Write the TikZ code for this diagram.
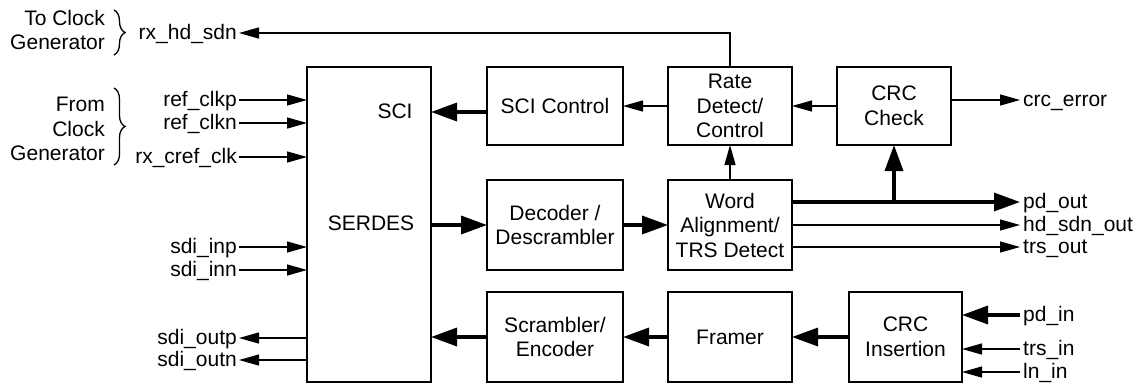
\documentclass[tikz,border=0pt]{standalone}
\usepackage{fontspec}
\setmainfont{Liberation Sans}
\usetikzlibrary{arrows.meta,decorations.pathreplacing,calc}
\begin{document}
\begin{tikzpicture}[x=1pt,y=-1pt,
  every node/.style={font=\fontsize{21}{24.5}\selectfont},
  blk/.style={draw,line width=1.4pt,inner sep=0pt,outer sep=0pt,align=center},
  lblL/.style={anchor=east,inner sep=2pt,text height=14pt,text depth=2pt},
  lblR/.style={anchor=west,inner sep=3pt,text height=14pt,text depth=2pt},
  thinarr/.style={line width=1.3pt,-{Triangle[length=20pt,width=11pt]}},
  thickarr/.style={line width=3.4pt,-{Triangle[length=26pt,width=18pt]}},
  thinline/.style={line width=1.3pt},
  brc/.style={decorate,line width=1.3pt,decoration={brace,amplitude=11pt}}]
\useasboundingbox (0,0) rectangle (1148,384);

% blocks
\node[blk,minimum width=124pt,minimum height=315pt] (serdes) at (369,224.5) {};
\node (scilbl) at (395,111) {SCI};
\node (serdeslbl) at (371,223) {SERDES};
\node[blk,minimum width=136pt,minimum height=78pt] (scictl) at (555,106) {SCI Control};
\node[blk,minimum width=124pt,minimum height=78pt] (rate) at (730,106) {Rate\\Detect/\\Control};
\node[blk,minimum width=114pt,minimum height=78pt] (crcchk) at (894,106) {CRC\\Check};
\node[blk,minimum width=136pt,minimum height=90pt] (decoder) at (555,225) {Decoder /\\Descrambler};
\node[blk,minimum width=124pt,minimum height=90pt] (word) at (730,225) {Word\\Alignment/\\TRS Detect};
\node[blk,minimum width=136pt,minimum height=90pt] (scram) at (555,337) {Scrambler/\\Encoder};
\node[blk,minimum width=124pt,minimum height=90pt] (framer) at (730,337) {Framer};
\node[blk,minimum width=113pt,minimum height=90pt] (crcins) at (905.5,337) {CRC\\Insertion};

% left labels
\node[lblL] (rxhd) at (239,33) {rx\_hd\_sdn};
\node[lblL] (refp) at (239,100) {ref\_clkp};
\node[lblL] (refn) at (239,123) {ref\_clkn};
\node[lblL] (rxcref) at (239,157) {rx\_cref\_clk};
\node[lblL] (sdiinp) at (239,247) {sdi\_inp};
\node[lblL] (sdiinn) at (239,270) {sdi\_inn};
\node[lblL] (sdioutp) at (239,338) {sdi\_outp};
\node[lblL] (sdioutn) at (239,360) {sdi\_outn};

% right labels
\node[lblR] (crcerr) at (1020,100) {crc\_error};
\node[lblR] (pdout) at (1020,202) {pd\_out};
\node[lblR] (hdout) at (1020,225) {hd\_sdn\_out};
\node[lblR] (trsout) at (1020,247) {trs\_out};
\node[lblR] (pdin) at (1020,315) {pd\_in};
\node[lblR] (trsin) at (1020,349) {trs\_in};
\node[lblR] (lnin) at (1020,372) {ln\_in};

% group texts and braces
\node[align=right,anchor=east,inner sep=0pt] (togen) at (105,30) {To Clock\\Generator};
\node[align=right,anchor=east,inner sep=0pt] (fromgen) at (105,129) {From\\Clock\\Generator};
\draw[brc] (114,10) -- (114,55);
\draw[brc] (114,88) -- (114,165);

% connectors
\draw[thinarr] (rate.north) |- (rxhd.east);
\draw[thickarr] ([yshift=-6pt]scictl.west) -- ([yshift=-6pt]scictl.west -| serdes.east);
\draw[thinarr] (rate.west) -- (scictl.east);
\draw[thinarr] (crcchk.west) -- (rate.east);
\draw[thinarr] (word.north) -- (rate.south);
\draw[thinarr] (crcchk.east |- crcerr.west) -- (crcerr.west);
\draw[thickarr] (word.east |- pdout.west) -- (pdout.west);
\draw[thickarr] (crcchk.south |- pdout.west) -- (crcchk.south);
\draw[thinarr] (word.east |- hdout.west) -- (hdout.west);
\draw[thinarr] (word.east |- trsout.west) -- (trsout.west);
\draw[thickarr] (serdes.east |- decoder.west) -- (decoder.west);
\draw[thickarr] (decoder.east) -- (word.west);
\draw[thickarr] (pdin.west) -- (crcins.east |- pdin.west);
\draw[thinarr] (trsin.west) -- (crcins.east |- trsin.west);
\draw[thinarr] (lnin.west) -- (crcins.east |- lnin.west);
\draw[thickarr] (crcins.west) -- (framer.east);
\draw[thickarr] (framer.west) -- (scram.east);
\draw[thickarr] (scram.west) -- (serdes.east |- scram.west);
\foreach \n in {refp,refn,rxcref,sdiinp,sdiinn}
  \draw[thinarr] (\n.east) -- (serdes.west |- \n.east);
\foreach \n in {sdioutp,sdioutn}
  \draw[thinarr] (serdes.west |- \n.east) -- (\n.east);
\end{tikzpicture}
\end{document}
